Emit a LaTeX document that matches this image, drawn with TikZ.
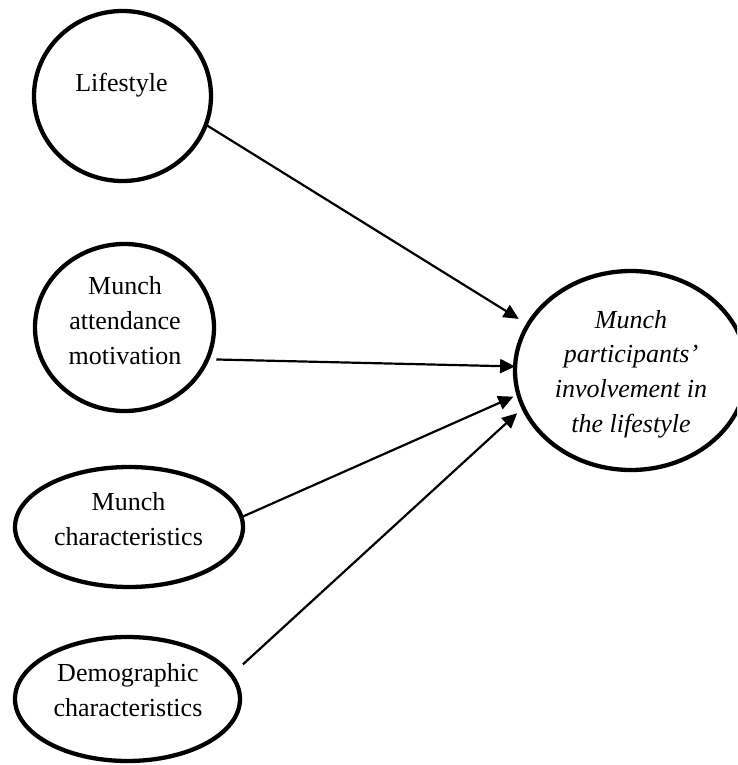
\documentclass[tikz,border=0pt]{standalone}
\usepackage{fontspec}
\setmainfont{Liberation Serif}
\usetikzlibrary{shapes.geometric,arrows.meta}
\begin{document}
\begin{tikzpicture}[x=1pt,y=-1pt,
  bub/.style={draw, ellipse, line width=4.3pt, inner sep=0pt, outer sep=0pt},
  lbl/.style={align=center, inner sep=0pt, font=\fontsize{26}{34.8}\selectfont},
  ilbl/.style={lbl, font=\fontsize{26}{34.8}\selectfont\itshape},
  arr/.style={line width=2.2pt, -{Triangle[length=15pt,width=14pt]}}]
\useasboundingbox (0,0) rectangle (737,765);
\clip (0,0) rectangle (737,765);
% shapes
\node[bub, minimum width=177pt, minimum height=170pt] (life) at (122.5,96) {};
\node[bub, minimum width=179pt, minimum height=167pt] (motiv) at (124.5,327.5) {};
\node[bub, minimum width=228pt, minimum height=120pt] (munch) at (129,527) {};
\node[bub, minimum width=225pt, minimum height=124pt] (demo) at (127.5,699) {};
\node[bub, minimum width=232pt, minimum height=199pt] (tgt) at (631,370.5) {};
% texts
\node[lbl] (lifeT) at (121.5,85) {Lifestyle};
\node[lbl] (motivT) at (125,320.6) {Munch\\attendance\\motivation};
\node[lbl] (munchT) at (128.5,519.5) {Munch\\characteristics};
\node[lbl] (demoT) at (128,690) {Demographic\\characteristics};
\node[ilbl] (tgtT) at (631,374) {Munch\\participants’\\involvement in\\the lifestyle};
% connectors
\draw[arr, shorten >=11pt] (life.-19) -- (tgt.156.7);
\draw[arr, shorten <=9pt] (motiv.-21.4) -- (tgt.178.8);
\draw[arr, shorten >=5.5pt] (munch.5) -- (tgt.-168.9);
\draw[arr, shorten <=15.8pt, shorten >=8.4pt] (demo.13.9) -- (tgt.-161.1);
\end{tikzpicture}
\end{document}
